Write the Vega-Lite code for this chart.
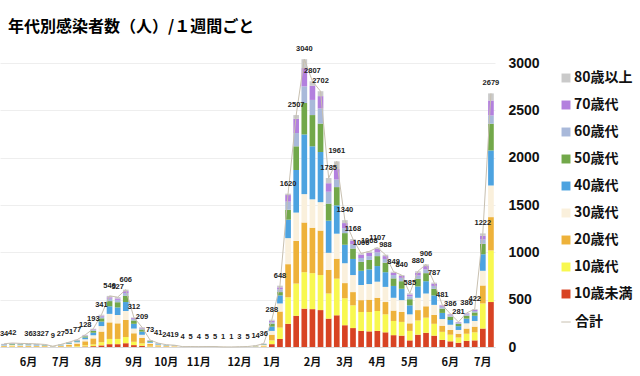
{
  "$schema": "https://vega.github.io/schema/vega-lite/v6.json",
  "width": 495,
  "height": 284,
  "autosize": "none",
  "padding": {"left": 0, "top": 63, "right": 145, "bottom": 29},
  "background": "white",
  "title": {"text": "年代別感染者数（人）/１週間ごと", "anchor": "start", "frame": "group", "fontSize": 16, "fontWeight": "bold", "font": "Noto Sans CJK JP", "color": "#000000", "offset": 10, "dx": 8},
  "config": {"view": {"stroke": null}, "font": "Noto Sans CJK JP"},
  "data": {"values": [
    {"w":0,"a0":1,"a1":2,"a2":9,"a3":5,"a4":5,"a5":4,"a6":3,"a7":3,"a8":2,"s":34,"t":34},
    {"w":1,"a0":1,"a1":3,"a2":11,"a3":6,"a4":6,"a5":5,"a6":4,"a7":3,"a8":3,"s":42,"t":42},
    {"w":2,"a0":1,"a1":2,"a2":10,"a3":6,"a4":6,"a5":4,"a6":3,"a7":3,"a8":3,"s":38,"t":null},
    {"w":3,"a0":1,"a1":2,"a2":9,"a3":6,"a4":6,"a5":4,"a6":3,"a7":3,"a8":2,"s":36,"t":36},
    {"w":4,"a0":1,"a1":2,"a2":8,"a3":5,"a4":6,"a5":4,"a6":3,"a7":2,"a8":2,"s":33,"t":33},
    {"w":5,"a0":1,"a1":2,"a2":7,"a3":4,"a4":4,"a5":3,"a6":2,"a7":2,"a8":2,"s":27,"t":27},
    {"w":6,"a0":0,"a1":1,"a2":3,"a3":1,"a4":1,"a5":1,"a6":1,"a7":1,"a8":0,"s":9,"t":9},
    {"w":7,"a0":1,"a1":2,"a2":8,"a3":5,"a4":4,"a5":3,"a6":2,"a7":1,"a8":1,"s":27,"t":27},
    {"w":8,"a0":2,"a1":4,"a2":17,"a3":9,"a4":7,"a5":5,"a6":3,"a7":2,"a8":2,"s":51,"t":51},
    {"w":9,"a0":3,"a1":7,"a2":26,"a3":14,"a4":11,"a5":7,"a6":4,"a7":3,"a8":2,"s":77,"t":77},
    {"w":10,"a0":6,"a1":12,"a2":42,"a3":22,"a4":18,"a5":13,"a6":6,"a7":5,"a8":4,"s":128,"t":128},
    {"w":11,"a0":9,"a1":18,"a2":64,"a3":33,"a4":27,"a5":19,"a6":10,"a7":7,"a8":6,"s":193,"t":193},
    {"w":12,"a0":17,"a1":34,"a2":112,"a3":58,"a4":48,"a5":34,"a6":17,"a7":11,"a8":10,"s":341,"t":341},
    {"w":13,"a0":30,"a1":55,"a2":175,"a3":90,"a4":80,"a5":55,"a6":25,"a7":15,"a8":15,"s":540,"t":540},
    {"w":14,"a0":30,"a1":55,"a2":165,"a3":88,"a4":80,"a5":55,"a6":25,"a7":15,"a8":14,"s":527,"t":527},
    {"w":15,"a0":40,"a1":65,"a2":180,"a3":95,"a4":95,"a5":65,"a6":30,"a7":20,"a8":16,"s":606,"t":606},
    {"w":16,"a0":20,"a1":35,"a2":90,"a3":50,"a4":50,"a5":35,"a6":15,"a7":10,"a8":7,"s":312,"t":312},
    {"w":17,"a0":14,"a1":24,"a2":58,"a3":33,"a4":33,"a5":23,"a6":11,"a7":7,"a8":6,"s":209,"t":209},
    {"w":18,"a0":5,"a1":8,"a2":20,"a3":12,"a4":11,"a5":8,"a6":4,"a7":3,"a8":2,"s":73,"t":73},
    {"w":19,"a0":3,"a1":4,"a2":11,"a3":7,"a4":6,"a5":4,"a6":3,"a7":2,"a8":1,"s":41,"t":41},
    {"w":20,"a0":2,"a1":2,"a2":6,"a3":4,"a4":4,"a5":2,"a6":2,"a7":1,"a8":1,"s":24,"t":24},
    {"w":21,"a0":1,"a1":2,"a2":5,"a3":3,"a4":3,"a5":2,"a6":1,"a7":1,"a8":1,"s":19,"t":19},
    {"w":22,"a0":0,"a1":0,"a2":1,"a3":1,"a4":1,"a5":1,"a6":0,"a7":0,"a8":0,"s":4,"t":4},
    {"w":23,"a0":0,"a1":1,"a2":1,"a3":1,"a4":1,"a5":1,"a6":0,"a7":0,"a8":0,"s":5,"t":5},
    {"w":24,"a0":0,"a1":0,"a2":1,"a3":1,"a4":1,"a5":0,"a6":1,"a7":0,"a8":0,"s":4,"t":4},
    {"w":25,"a0":0,"a1":0,"a2":2,"a3":1,"a4":1,"a5":1,"a6":0,"a7":0,"a8":0,"s":5,"t":5},
    {"w":26,"a0":0,"a1":1,"a2":1,"a3":1,"a4":1,"a5":0,"a6":1,"a7":0,"a8":0,"s":5,"t":5},
    {"w":27,"a0":0,"a1":0,"a2":1,"a3":0,"a4":0,"a5":0,"a6":0,"a7":0,"a8":0,"s":1,"t":1},
    {"w":28,"a0":0,"a1":0,"a2":0,"a3":1,"a4":0,"a5":0,"a6":0,"a7":0,"a8":0,"s":1,"t":1},
    {"w":29,"a0":0,"a1":0,"a2":1,"a3":1,"a4":1,"a5":0,"a6":0,"a7":0,"a8":0,"s":3,"t":3},
    {"w":30,"a0":0,"a1":1,"a2":1,"a3":1,"a4":1,"a5":1,"a6":0,"a7":0,"a8":0,"s":5,"t":5},
    {"w":31,"a0":1,"a1":2,"a2":3,"a3":2,"a4":2,"a5":2,"a6":1,"a7":1,"a8":0,"s":14,"t":14},
    {"w":32,"a0":3,"a1":4,"a2":8,"a3":6,"a4":5,"a5":4,"a6":2,"a7":2,"a8":2,"s":36,"t":36},
    {"w":33,"a0":30,"a1":40,"a2":60,"a3":40,"a4":45,"a5":30,"a6":18,"a7":15,"a8":10,"s":288,"t":288},
    {"w":34,"a0":85,"a1":120,"a2":170,"a3":85,"a4":85,"a5":35,"a6":30,"a7":20,"a8":18,"s":648,"t":648},
    {"w":35,"a0":245,"a1":280,"a2":350,"a3":275,"a4":195,"a5":105,"a6":85,"a7":70,"a8":15,"s":1620,"t":1620},
    {"w":36,"a0":330,"a1":340,"a2":450,"a3":300,"a4":450,"a5":250,"a6":140,"a7":150,"a8":40,"s":2450,"t":2507},
    {"w":37,"a0":405,"a1":385,"a2":525,"a3":300,"a4":630,"a5":333,"a6":175,"a7":193,"a8":94,"s":3040,"t":3040},
    {"w":38,"a0":400,"a1":380,"a2":480,"a3":300,"a4":560,"a5":330,"a6":160,"a7":150,"a8":47,"s":2807,"t":2807},
    {"w":39,"a0":390,"a1":370,"a2":470,"a3":300,"a4":530,"a5":300,"a6":160,"a7":130,"a8":52,"s":2702,"t":2702},
    {"w":40,"a0":300,"a1":265,"a2":250,"a3":180,"a4":340,"a5":180,"a6":125,"a7":90,"a8":55,"s":1785,"t":1785},
    {"w":41,"a0":335,"a1":387,"a2":211,"a3":264,"a4":299,"a5":193,"a6":80,"a7":110,"a8":82,"s":1961,"t":1961},
    {"w":42,"a0":230,"a1":285,"a2":160,"a3":210,"a4":195,"a5":123,"a6":53,"a7":53,"a8":31,"s":1340,"t":1340},
    {"w":43,"a0":200,"a1":240,"a2":140,"a3":180,"a4":170,"a5":110,"a6":45,"a7":40,"a8":15,"s":1140,"t":1168},
    {"w":44,"a0":170,"a1":200,"a2":125,"a3":160,"a4":150,"a5":95,"a6":40,"a7":35,"a8":14,"s":989,"t":1006},
    {"w":45,"a0":165,"a1":205,"a2":130,"a3":165,"a4":155,"a5":100,"a6":40,"a7":35,"a8":15,"s":1010,"t":1068},
    {"w":46,"a0":170,"a1":210,"a2":140,"a3":170,"a4":165,"a5":105,"a6":40,"a7":35,"a8":15,"s":1050,"t":1107},
    {"w":47,"a0":155,"a1":190,"a2":130,"a3":160,"a4":155,"a5":100,"a6":40,"a7":30,"a8":15,"s":975,"t":988},
    {"w":48,"a0":125,"a1":150,"a2":110,"a3":135,"a4":125,"a5":80,"a6":35,"a7":25,"a8":10,"s":795,"t":849},
    {"w":49,"a0":120,"a1":145,"a2":105,"a3":125,"a4":120,"a5":80,"a6":35,"a7":20,"a8":10,"s":760,"t":840},
    {"w":50,"a0":70,"a1":100,"a2":80,"a3":95,"a4":95,"a5":65,"a6":30,"a7":20,"a8":12,"s":567,"t":585},
    {"w":51,"a0":130,"a1":150,"a2":110,"a3":130,"a4":120,"a5":80,"a6":35,"a7":30,"a8":15,"s":800,"t":880},
    {"w":52,"a0":150,"a1":160,"a2":120,"a3":135,"a4":130,"a5":85,"a6":40,"a7":35,"a8":18,"s":873,"t":906},
    {"w":53,"a0":120,"a1":125,"a2":95,"a3":105,"a4":100,"a5":70,"a6":30,"a7":25,"a8":10,"s":680,"t":787},
    {"w":54,"a0":75,"a1":85,"a2":65,"a3":70,"a4":65,"a5":45,"a6":20,"a7":15,"a8":5,"s":445,"t":481},
    {"w":55,"a0":60,"a1":70,"a2":50,"a3":55,"a4":50,"a5":35,"a6":15,"a7":10,"a8":5,"s":350,"t":386},
    {"w":56,"a0":45,"a1":55,"a2":40,"a3":40,"a4":40,"a5":25,"a6":10,"a7":7,"a8":3,"s":265,"t":281},
    {"w":57,"a0":65,"a1":75,"a2":55,"a3":55,"a4":50,"a5":30,"a6":15,"a7":10,"a8":5,"s":360,"t":386},
    {"w":58,"a0":70,"a1":85,"a2":60,"a3":60,"a4":55,"a5":35,"a6":15,"a7":12,"a8":8,"s":400,"t":422},
    {"w":59,"a0":195,"a1":265,"a2":190,"a3":155,"a4":175,"a5":110,"a6":45,"a7":40,"a8":25,"s":1200,"t":1222},
    {"w":60,"a0":475,"a1":545,"a2":352,"a3":334,"a4":370,"a5":282,"a6":88,"a7":158,"a8":75,"s":2679,"t":2679}
  ]},
  "layer": [
    {
      "transform": [
        {"fold": ["a0","a1","a2","a3","a4","a5","a6","a7","a8"], "as": ["k","v"]},
        {"lookup": "k", "from": {"data": {"values": [
          {"k":"a0","g":"10歳未満","o":0},
          {"k":"a1","g":"10歳代","o":1},
          {"k":"a2","g":"20歳代","o":2},
          {"k":"a3","g":"30歳代","o":3},
          {"k":"a4","g":"40歳代","o":4},
          {"k":"a5","g":"50歳代","o":5},
          {"k":"a6","g":"60歳代","o":6},
          {"k":"a7","g":"70歳代","o":7},
          {"k":"a8","g":"80歳以上","o":8}
        ]}, "key": "k", "fields": ["g","o"]}}
      ],
      "mark": {"type": "bar"},
      "encoding": {
        "x": {"field": "w", "type": "ordinal", "scale": {"paddingInner": 0.3, "paddingOuter": 0.15},
          "axis": {"title": null, "ticks": false, "domainColor": "#d9d9d9", "labelAngle": 0, "labelOverlap": false,
            "labelExpr": "['6月','7月','8月','9月','10月','11月','12月','1月','2月','3月','4月','5月','6月','7月'][indexof([3,7,11,16,20,24,29,33,38,42,46,50,55,59], datum.value)] || ''",
            "labelFontSize": 11, "labelFontWeight": "bold", "labelColor": "#111111", "labelPadding": 9, "labelFont": "Noto Sans CJK JP"}},
        "y": {"field": "v", "type": "quantitative", "stack": "zero", "scale": {"domain": [0, 3000], "nice": false},
          "axis": {"orient": "right", "title": null, "values": [0,500,1000,1500,2000,2500,3000], "format": "d", "ticks": false, "domain": false,
            "labelFontSize": 14, "labelFontWeight": "bold", "labelFont": "Liberation Sans", "labelColor": "#111111", "labelPadding": 13,
            "grid": true, "gridColor": "#eeeeee"}},
        "color": {"field": "g", "type": "nominal",
          "scale": {"domain": ["80歳以上","70歳代","60歳代","50歳代","40歳代","30歳代","20歳代","10歳代","10歳未満"],
            "range": ["#cacaca","#b380de","#a9b9da","#72a84a","#4da3e0","#faf0dc","#eeb23a","#f8f850","#d84323"]},
          "legend": {"orient": "none", "legendX": 559, "legendY": 8, "title": null, "padding": 0, "symbolType": "square", "symbolSize": 80,
            "symbolStrokeWidth": 0, "labelFontSize": 14, "labelFontWeight": "bold", "labelFont": "Noto Sans CJK JP", "labelColor": "#111111",
            "rowPadding": 13, "labelOffset": 1}},
        "order": {"field": "o", "type": "quantitative", "sort": "ascending"}
      }
    },
    {
      "mark": {"type": "line", "strokeWidth": 1},
      "encoding": {
        "x": {"field": "w", "type": "ordinal"},
        "y": {"field": "s", "type": "quantitative"},
        "stroke": {"datum": "合計", "type": "nominal", "scale": {"range": ["#c8c0b0"]},
          "legend": {"orient": "none", "legendX": 559, "legendY": 252, "title": null, "padding": 0, "symbolType": "stroke", "symbolSize": 90,
            "symbolStrokeWidth": 1, "labelFontSize": 14, "labelFontWeight": "bold", "labelFont": "Noto Sans CJK JP", "labelColor": "#111111", "labelOffset": 2}}
      }
    },
    {
      "transform": [{"filter": "isValid(datum.t)"}],
      "mark": {"type": "text", "dy": -10, "fontSize": 7.5, "fontWeight": "bold", "font": "Liberation Sans", "color": "#222222"},
      "encoding": {
        "x": {"field": "w", "type": "ordinal"},
        "y": {"field": "s", "type": "quantitative"},
        "text": {"field": "t", "type": "quantitative"}
      }
    }
  ]
}
